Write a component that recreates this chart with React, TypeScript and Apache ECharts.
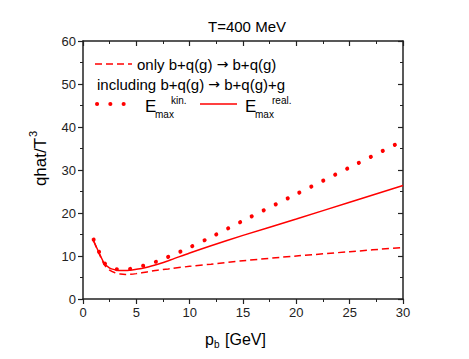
import React, { useEffect, useRef } from "react";
import * as echarts from "echarts";

const pb = [1, 1.5, 2, 2.5, 3, 3.5, 4, 5, 6, 7, 8, 10, 12, 15, 20, 25, 30];
const onlyElastic = [13.5, 10.6, 8.0, 6.7, 6.1, 5.8, 5.7, 5.9, 6.3, 6.7, 7.0, 7.6, 8.1, 8.9, 10.0, 11.0, 12.0];
const emaxKin = [13.8, 11.0, 8.4, 7.4, 7.0, 6.9, 6.9, 7.3, 8.0, 8.8, 9.8, 12.0, 14.4, 18.2, 24.4, 30.6, 36.8];
const emaxReal = [13.5, 10.8, 8.3, 7.2, 6.8, 6.6, 6.6, 6.9, 7.4, 8.1, 8.9, 10.7, 12.4, 14.8, 18.6, 22.5, 26.4];

const xTicks = [0, 30, 5];
const yTicks = [0, 60, 10];

const FONT = "Liberation Sans, Arial, sans-serif";
const RED = "#ff0000";

export default function App() {
  const ref = useRef<HTMLDivElement>(null);
  useEffect(() => {
    if (!ref.current) return;
    const chart = echarts.init(ref.current, null, { renderer: "svg" });
    const pair = (ys: number[]) => pb.map((x, i) => [x, ys[i]]);
    const axisCommon = {
      axisLine: { show: true, onZero: false, lineStyle: { color: "#222", width: 1.5 } },
      splitLine: { show: false },
    };
    const txt = (x: number, y: number, text: string, size: number, extra: any = {}) => ({
      type: "text",
      x,
      y,
      style: { text, fontSize: size, fontFamily: FONT, fill: "#000", textVerticalAlign: "middle", ...extra },
    });
    const arrowRich = {
      a: { fontSize: 15, fontFamily: FONT, color: "#000" },
      r: { fontSize: 14, fontFamily: "DejaVu Sans", color: "#000" },
    };
    chart.setOption({
      animation: false,
      backgroundColor: "#fff",
      title: {
        text: "T=400 MeV",
        left: 242,
        top: 14,
        textAlign: "center",
        textStyle: { fontSize: 15, fontWeight: "normal", fontFamily: FONT, color: "#000" },
      },
      grid: { left: 83, right: 66, top: 41, bottom: 60 },
      xAxis: [
        {
          type: "value",
          min: xTicks[0],
          max: xTicks[1],
          interval: xTicks[2],
          position: "bottom",
          ...axisCommon,
          axisTick: { show: true, length: 5, lineStyle: { color: "#222", width: 1.2 } },
          minorTick: { show: true, splitNumber: 2, length: 3, lineStyle: { color: "#222" } },
          axisLabel: { fontSize: 13, fontFamily: FONT, color: "#222", margin: 7 },
        },
        {
          type: "value",
          min: xTicks[0],
          max: xTicks[1],
          interval: xTicks[2],
          position: "top",
          ...axisCommon,
          axisTick: { show: true, inside: true, length: 5, lineStyle: { color: "#222", width: 1.2 } },
          minorTick: { show: true, splitNumber: 2, length: 3, lineStyle: { color: "#222" } },
          axisLabel: { show: false },
        },
      ],
      yAxis: [
        {
          type: "value",
          min: yTicks[0],
          max: yTicks[1],
          interval: yTicks[2],
          position: "left",
          ...axisCommon,
          axisTick: { show: true, length: 5, lineStyle: { color: "#222", width: 1.2 } },
          minorTick: { show: true, splitNumber: 2, length: 3, lineStyle: { color: "#222" } },
          axisLabel: { fontSize: 13, fontFamily: FONT, color: "#222", margin: 7 },
        },
        {
          type: "value",
          min: yTicks[0],
          max: yTicks[1],
          interval: yTicks[2],
          position: "right",
          ...axisCommon,
          axisTick: { show: true, inside: true, length: 5, lineStyle: { color: "#222", width: 1.2 } },
          minorTick: { show: true, splitNumber: 2, length: 3, lineStyle: { color: "#222" } },
          axisLabel: { show: false },
        },
      ],
      series: [
        {
          type: "line",
          name: "only b+q(g) → b+q(g)",
          data: pair(onlyElastic),
          smooth: 0.3,
          showSymbol: false,
          lineStyle: { color: RED, width: 1.5, type: [7, 4] },
        },
        {
          type: "line",
          name: "E_max kin.",
          data: pair(emaxKin),
          smooth: 0.3,
          showSymbol: false,
          lineStyle: { color: RED, width: 4, type: [0.1, 13.2], cap: "round" },
        },
        {
          type: "line",
          name: "E_max real.",
          data: pair(emaxReal),
          smooth: 0.3,
          showSymbol: false,
          lineStyle: { color: RED, width: 1.5 },
        },
      ],
      graphic: [
        {
          type: "line",
          shape: { x1: 95, y1: 64, x2: 132, y2: 64 },
          style: { stroke: RED, lineWidth: 1.5, lineDash: [7, 4] },
        },
        {
          type: "text",
          x: 137,
          y: 64,
          style: { text: "{a|only b+q(g) }{r|→}{a| b+q(g)}", rich: arrowRich, textVerticalAlign: "middle" },
        },
        {
          type: "text",
          x: 97,
          y: 84,
          style: { text: "{a|including b+q(g) }{r|→}{a| b+q(g)+g}", rich: arrowRich, textVerticalAlign: "middle" },
        },
        {
          type: "line",
          shape: { x1: 97, y1: 104, x2: 131, y2: 104 },
          style: { stroke: RED, lineWidth: 4, lineDash: [0.1, 13.2], lineCap: "round" },
        },
        txt(145, 106, "E", 17),
        txt(155, 114, "max", 10),
        txt(171, 100, "kin.", 10),
        {
          type: "line",
          shape: { x1: 200, y1: 104, x2: 237, y2: 104 },
          style: { stroke: RED, lineWidth: 1.5 },
        },
        txt(245, 106, "E", 17),
        txt(255, 114, "max", 10),
        txt(272, 100, "real.", 10),
        {
          type: "group",
          x: 40,
          y: 162,
          rotation: Math.PI / 2,
          children: [
            txt(0, 0, "qhat/T", 17, { textAlign: "center" }),
            txt(25, -7, "3", 11),
          ],
        },
        txt(205, 339, "p", 16),
        txt(214, 344, "b", 10),
        txt(225, 339, "[GeV]", 16),
      ],
    });
    return () => chart.dispose();
  }, []);
  return <div ref={ref} style={{ position: "absolute", left: 0, top: 0, width: 469, height: 359 }} />;
}
